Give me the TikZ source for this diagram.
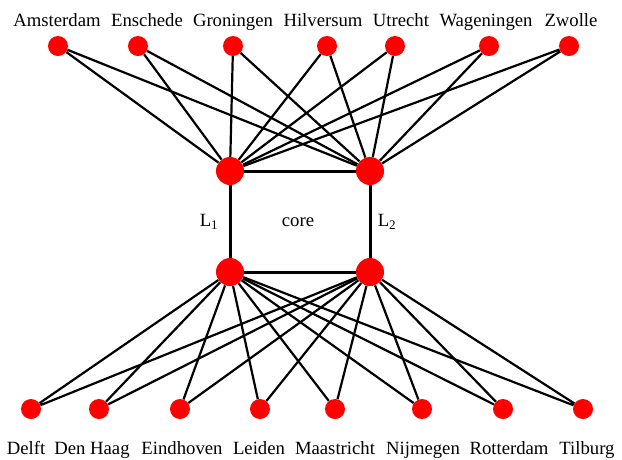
\documentclass[tikz,border=0pt]{standalone}
\usepackage{fontspec}
\setmainfont{Liberation Serif}
\begin{document}
\begin{tikzpicture}[x=1pt,y=-1pt,
    city/.style={circle,fill=red,inner sep=0pt,minimum size=20pt},
    hub/.style={circle,fill=red,inner sep=0pt,minimum size=28pt},
    link/.style={line width=2.2pt},
    ring/.style={line width=3pt},
    lab/.style={font=\fontsize{18.7}{22}\selectfont,inner sep=0pt}]
    \useasboundingbox (0,0) rectangle (622,459);
    % core routers
    \node[hub] (c1) at (230,171) {};
    \node[hub] (c2) at (370,171) {};
    \node[hub] (c3) at (230,272) {};
    \node[hub] (c4) at (370,272) {};
    \draw[ring] (c1) -- (c2) -- (c4) -- (c3) -- (c1);
    \node[lab] (l1) at (209,222) {L\textsubscript{1}};
    \node[lab] (core) at (298,222) {core};
    \node[lab] (l2) at (387,222) {L\textsubscript{2}};
    % upper sites
    \foreach \x/\tx/\n/\t in {58/57/ams/Amsterdam,138/147/ens/Enschede,
        233/233/gro/Groningen,327/323/hil/Hilversum,395/401/utr/Utrecht,
        489/486/wag/Wageningen,569/571/zwo/Zwolle} {
        \node[city] (\n) at (\x,46) {};
        \node[lab,anchor=base] (\n-t) at (\tx,26) {\t};
        \draw[link] (\n) -- (c1) (\n) -- (c2);
    }
    % lower sites
    \foreach \x/\tx/\n/\t in {31/26/del/Delft,99/92/dha/Den Haag,
        180/182/ein/Eindhoven,260/259/lei/Leiden,335/335/maa/Maastricht,
        422/423/nij/Nijmegen,503/509/rot/Rotterdam,583/587/til/Tilburg} {
        \node[city] (\n) at (\x,409) {};
        \node[lab,anchor=base] (\n-t) at (\tx,454) {\t};
        \draw[link] (\n) -- (c3) (\n) -- (c4);
    }
\end{tikzpicture}
\end{document}
